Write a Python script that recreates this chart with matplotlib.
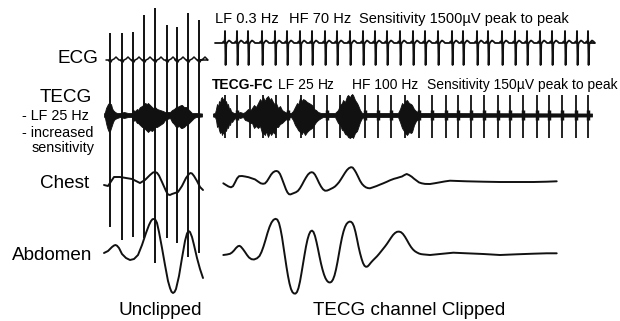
import matplotlib
matplotlib.use("Agg")
import matplotlib.pyplot as plt
import numpy as np

plt.rcParams['font.family'] = ['Liberation Sans', 'DejaVu Sans']

# ---------------- unclipped strip (left) ----------------
# beat times along the strip and the swing of each raw TECG spike
left_beats = [6, 18, 29, 40, 51, 63, 73, 84, 95]
left_spike_up = [82, 82, 83, 100, 107, 90, 88, 102, 95]
left_spike_down = [-112, -125, -122, -123, -148, -123, -128, -142, -138]

# ECG complex at low gain
left_ecg_beat_t = [-2, -1, 0, 1, 2, 4, 6, 8, 9]
left_ecg_beat_v = [0, -1, 2, -2, 0, 1, 3, 1, 0]

# TECG muscle noise envelope
left_tecg_t = [0, 1, 2, 3, 4, 5, 6, 7, 8, 9, 10, 11, 13, 16, 20, 24, 28, 29, 31, 33, 34, 36, 38, 39,
               41, 43, 44, 46, 48, 49, 51, 53, 56, 59, 61, 63, 66, 68, 70, 72, 73, 75, 77, 78,
               80, 82, 83, 85, 88, 90, 92, 98]
left_tecg_up = [1.5, 3, 7, 9, 11, 12, 10, 11, 7, 5, 4, 3, 2, 2, 3, 2, 2, 5, 4, 6, 5, 8, 9, 10,
                12, 11, 12, 10, 8, 7, 8, 6, 5, 4, 3, 3, 3, 5, 6, 8, 8, 9, 10, 10,
                8, 8, 7, 5, 2, 2, 2, 1.5]
left_tecg_dn = [-1.5, -3, -8, -12, -15, -17, -16, -13, -10, -7, -5, -4, -3, -2, -3, -2, -2, -6, -5, -8, -8, -10, -12, -12,
                -14, -16, -17, -15, -16, -15, -12, -12, -10, -8, -5, -4, -3, -7, -9, -12, -12, -11, -13, -13,
                -12, -10, -10, -8, -5, -3, -2, -1.5]

left_chest_t = [0, 4, 8, 10, 16, 22, 28, 32, 36, 41, 46, 49, 51, 53, 55, 58, 62, 64, 66, 68, 74, 78,
                82, 85, 86.5, 88, 90, 93, 96, 99]
left_chest_v = [-2, -3, 3, 6, 6, 5, 4, 2, 0, 3, 8, 10.5, 11, 10.2, 7.5, 1, -8, -11.5, -12, -11, -9, -3,
                5, 9, 10, 9.5, 7, 2, -4, -7]

left_abd_t = [0, 4, 8, 10, 11.5, 13, 15, 18, 22, 26, 30, 34, 38, 42, 45, 47, 48.5, 50, 51.5, 53, 55,
              58, 61, 64, 66, 67.5, 69, 70.5, 72, 75, 78, 81, 83, 84.5, 86, 88, 90, 93, 96, 99]
left_abd_v = [0, 2, 6, 7.5, 8, 7.3, 5, -1, -5, -7, -6, -2, 8, 20, 28, 32, 33.8, 34, 33, 30, 21,
              5, -12, -28, -35, -38.8, -40, -39, -36, -23, -5, 12, 19.5, 22, 21, 16, 8, -5, -16, -25]

# ---------------- clipped strip (right) ----------------
ecg_beats = [12, 24, 35, 49, 62, 74, 87, 99, 112, 124, 137, 150, 162, 174, 187,
             200, 212, 225, 239, 250, 264, 275, 289, 302, 314, 327, 339, 352, 364, 375]
ecg_beat_t = [-2.5, -1.5, -0.8, -0.3, 0, 0.6, 1.3, 2.5, 4, 5.5, 7]
ecg_beat_v = [0, 1.5, 0, 0, 12, -22, -1, 1, 2.5, 1.5, 0]

tecg_beats = [12, 24, 37, 50, 63, 75, 88, 101, 114, 127, 139, 152, 165, 178, 192,
              206, 219, 233, 245, 258, 271, 285, 297, 310, 324, 336, 349, 363, 375]
tecg_spike_up = 20
tecg_spike_down = -23

tecg_t = [0, 2, 3, 4, 5, 6, 7, 8, 9, 10, 11, 12, 13, 14, 15, 16, 17, 18, 19, 21, 24, 27, 30,
          32, 35, 37, 39, 41, 43, 45, 47, 49, 50, 52, 53, 55, 57, 58, 60, 62, 63, 65, 67, 69, 72, 75, 78,
          80, 82, 84, 85, 87, 89, 90, 92, 94, 96, 99, 101, 103, 105, 108, 110,
          122, 124, 125, 127, 129, 130, 132, 134, 135, 137, 139, 140, 142, 144, 145, 147, 149, 152,
          185, 187, 189, 191, 192, 194, 196, 198, 199, 201, 203, 205, 207, 379]
tecg_up = [1.5, 2, 6, 11, 8, 14, 12, 17, 18, 15, 17, 12, 14, 10, 11, 6, 7, 4, 3, 2, 2, 3, 2,
           3, 6, 4, 7, 10, 8, 12, 16, 13, 18, 14, 17, 19, 15, 17, 13, 10, 12, 7, 9, 5, 3, 2, 2,
           4, 8, 12, 10, 17, 14, 16, 15, 13, 12, 10, 6, 5, 3, 2, 2,
           2, 4, 5, 10, 12, 15, 13, 19, 20, 18, 21, 20, 15, 12, 10, 5, 2, 2,
           2, 6, 12, 10, 14, 15, 12, 11, 10, 6, 4, 3, 2, 1.5]
tecg_dn = [-1.5, -2, -5, -12, -10, -15, -18, -16, -20, -17, -19, -14, -16, -12, -13, -9, -10, -6, -7, -4, -2, -3, -2,
           -5, -6, -8, -8, -13, -11, -13, -11, -18, -18, -20, -16, -22, -17, -20, -17, -19, -12, -12, -9, -8, -5, -3, -2,
           -5, -10, -13, -15, -17, -19, -16, -20, -17, -15, -13, -10, -7, -5, -3, -2,
           -2, -6, -8, -10, -15, -15, -19, -20, -22, -23, -21, -23, -18, -16, -13, -7, -3, -2,
           -2, -7, -13, -16, -18, -20, -17, -18, -17, -10, -6, -4, -2, -1.5]

chest_t = [10.3, 13, 15.5, 18, 20, 22, 24, 26, 29, 32, 35.5, 39, 42, 45, 47.7, 50, 52, 54, 56, 58,
           60, 62, 63.7, 65.3, 67, 68.5, 70, 71.5, 73, 74.5, 76, 77.5, 79, 81, 83, 85, 87, 89, 91,
           93, 95, 97, 98.7, 100.3, 102, 104, 106, 108, 110, 112, 114, 116, 118, 120, 122, 124,
           126, 128, 130, 132, 134, 136, 138, 139.7, 141.5, 143, 145, 147, 149, 151, 153, 155,
           157, 160, 163.7, 167, 170.3, 174, 177, 181, 184, 186.5, 189, 191.5, 193.7, 196, 198.7,
           201, 203.7, 206, 208.7, 212, 217, 222, 227, 232, 237, 245, 253.7, 270.3, 287, 303.7,
           320.3, 333.7, 343.7]
chest_v = [-0.3, -2, -3.5, -4.3, -3.2, 0.5, 4.5, 6.8, 7, 6.5, 5.8, 4.6, 3.6, 1.5, -0.3, -0.8, -0.4, 1.8, 5, 8.3,
           10.6, 11.8, 12, 11.3, 9, 5.5, 1.5, -2.5, -6.5, -9.5, -11.2, -11.4, -10.8, -10, -9.2, -7.8, -5.2, -1.8, 2,
           5.5, 8.5, 10.3, 10.8, 10.3, 8.3, 4.5, 0.2, -3.5, -6.3, -7.7, -7.6, -6.8, -5.8, -4.8, -3.5, -1.5,
           0.8, 3.8, 7, 10.2, 13, 14.9, 15.8, 15.4, 13, 10.5, 6.5, 2.3, -0.9, -3, -4.4, -5.1,
           -5.3, -4.3, -3, -1.6, -0.3, 1.3, 2.7, 4.2, 5, 5.8, 6.5, 8, 9, 8, 6.3,
           4.3, 2.3, 0.6, -0.3, -0.9, -1, -0.2, 0.7, 1.6, 2.3, 2, 1.7, 1.3, 1, 1,
           1, 1.3, 1.7]

abd_t = [10.3, 14, 17, 19, 21, 23, 25, 26.5, 28, 30, 32, 34, 36, 38.5, 41, 44, 46.5, 48.5, 50.5, 52.5,
         54.5, 56.5, 58.5, 60.5, 62.5, 64.3, 66, 67.5, 69, 70.5, 72, 73.5, 75, 76.5, 78, 79.5, 81, 82.5,
         84, 85.5, 87, 88.5, 90, 91.5, 93, 94.5, 96, 97.5, 99, 100.5, 102, 103.5, 105, 106.5, 108,
         109.5, 111, 112.5, 114, 115.5, 117, 118.5, 120, 121.5, 123, 124.5, 126, 127.5, 129, 130.5,
         132, 133.5, 135, 136.5, 138, 139.5, 141, 142.5, 144, 145.5, 147, 148.5, 150, 151.5, 153,
         154.5, 156, 158, 160, 162, 164, 166, 168, 170, 172, 174, 176, 178, 180, 182, 184, 186, 188,
         190, 192, 194, 196, 198, 200, 202, 204, 206, 208, 210.3, 217, 227, 240.3, 253.7, 270.3, 287,
         303.7, 320.3, 333.7, 343.7]
abd_v = [-2, -1.5, -0.8, 0.5, 2.5, 5, 6.8, 7.2, 6.2, 3.8, 1, -2, -4.5, -6.2, -6.5, -5.3, -3, 1, 6.5, 13,
         20, 26, 30.5, 33.2, 34.2, 33.4, 30, 24, 16, 6, -4, -14, -23, -30.5, -36, -39.2, -40.5, -40.6,
         -39, -35, -28.5, -20, -11, -2, 6.5, 13.5, 18.5, 21.6, 22.4, 21, 17, 11, 4, -3.5, -10.5,
         -16.5, -21.5, -25.3, -27.8, -29.2, -29.5, -28.8, -26.5, -22.5, -16.5, -9, -0.5, 8, 15.5, 21.5,
         26, 29, 30.6, 31.4, 31.2, 29.8, 26.5, 21, 14, 6.5, 0, -5.5, -10, -12.8, -13.8,
         -13.5, -12, -9.5, -7.3, -5.3, -3.3, -1, 1.5, 4, 6.5, 9.2, 12.2, 15.2, 18, 20, 21.2, 21.4, 20.8,
         19, 16.2, 12.8, 9.2, 6, 3.5, 1.7, 0.5, -0.5, -1.1, -1.4, -2, -1, 0.3, -0.3, -1, -2,
         -1.3, -0.7, -0.3, -0.3]

# strip placement on the page
LEFT_X0, RIGHT_X0 = 104, 213
ECG_L_Y, ECG_R_Y, TECG_Y, CHEST_Y, ABD_Y = 60, 43, 115, 183, 253
INK = '#111111'

fig = plt.figure(figsize=(6.2, 3.21), dpi=100)
ax = fig.add_axes([0, 0, 1, 1])
ax.set_xlim(0, 620)
ax.set_ylim(321, 0)
ax.axis('off')


def trace(t, v, x0, base, lw=1.4):
    ax.plot(np.asarray(t) + x0, base - np.asarray(v), color=INK, lw=lw,
            solid_joinstyle='round', solid_capstyle='round')


def beat_train(beats, bt, bv, start, end):
    t, v = [start], [0]
    for b in beats:
        t += [b + d for d in bt]
        v += list(bv)
    t.append(end)
    v.append(0)
    return t, v


def envelope(t, up, dn, x0, base):
    t = np.asarray(t) + x0
    ax.fill_between(t, base - np.asarray(up), base - np.asarray(dn),
                    color=INK, lw=0.6, edgecolor=INK)


# left strip
t, v = beat_train(left_beats, left_ecg_beat_t, left_ecg_beat_v, 2, 97)
trace(t, v, LEFT_X0, ECG_L_Y, lw=1.1)
envelope(left_tecg_t, left_tecg_up, left_tecg_dn, LEFT_X0, TECG_Y)
trace(left_chest_t, left_chest_v, LEFT_X0, CHEST_Y)
trace(left_abd_t, left_abd_v, LEFT_X0, ABD_Y)
ax.vlines(np.asarray(left_beats) + LEFT_X0,
          TECG_Y - np.asarray(left_spike_up), TECG_Y - np.asarray(left_spike_down),
          color=INK, lw=1.4)

# right strip
t, v = beat_train(ecg_beats, ecg_beat_t, ecg_beat_v, 2, 377)
trace(t, v, RIGHT_X0, ECG_R_Y, lw=1.3)
envelope(tecg_t, tecg_up, tecg_dn, RIGHT_X0, TECG_Y)
tb = np.asarray(tecg_beats) + RIGHT_X0
ax.vlines(tb, TECG_Y - tecg_spike_up, TECG_Y - tecg_spike_down, color=INK, lw=1.3)
ax.vlines(tb, TECG_Y - 5, TECG_Y + 5, color=INK, lw=2.5)
trace(chest_t, chest_v, RIGHT_X0, CHEST_Y)
trace(abd_t, abd_v, RIGHT_X0, ABD_Y)

# channel labels
big = 13.6
small = 10.4
ax.text(98, 63, 'ECG', ha='right', va='baseline', fontsize=big)
ax.text(92, 102, 'TECG', ha='right', va='baseline', fontsize=big)
ax.text(22, 120, '- LF 25 Hz', ha='left', va='baseline', fontsize=small)
ax.text(22, 137, '- increased', ha='left', va='baseline', fontsize=small)
ax.text(32, 152, 'sensitivity', ha='left', va='baseline', fontsize=small)
ax.text(89, 188, 'Chest', ha='right', va='baseline', fontsize=big)
ax.text(92, 260, 'Abdomen', ha='right', va='baseline', fontsize=big)
ax.text(160, 315, 'Unclipped', ha='center', va='baseline', fontsize=big)
ax.text(409, 315, 'TECG channel Clipped', ha='center', va='baseline', fontsize=big)

# filter settings
ax.text(215, 23, 'LF 0.3 Hz', va='baseline', fontsize=10.5)
ax.text(289, 23, 'HF 70 Hz', va='baseline', fontsize=10.5)
ax.text(359, 23, 'Sensitivity 1500µV peak to peak', va='baseline', fontsize=10.5)
ax.text(212, 89, 'TECG-FC', va='baseline', fontsize=10, fontweight='bold')
ax.text(278, 89, 'LF 25', va='baseline', fontsize=10)
ax.text(318, 89, 'Hz', va='baseline', fontsize=10)
ax.text(352, 89, 'HF 100 Hz', va='baseline', fontsize=10)
ax.text(427, 89, 'Sensitivity 150µV peak to peak', va='baseline', fontsize=10)

fig.savefig('out.png', dpi=100)
